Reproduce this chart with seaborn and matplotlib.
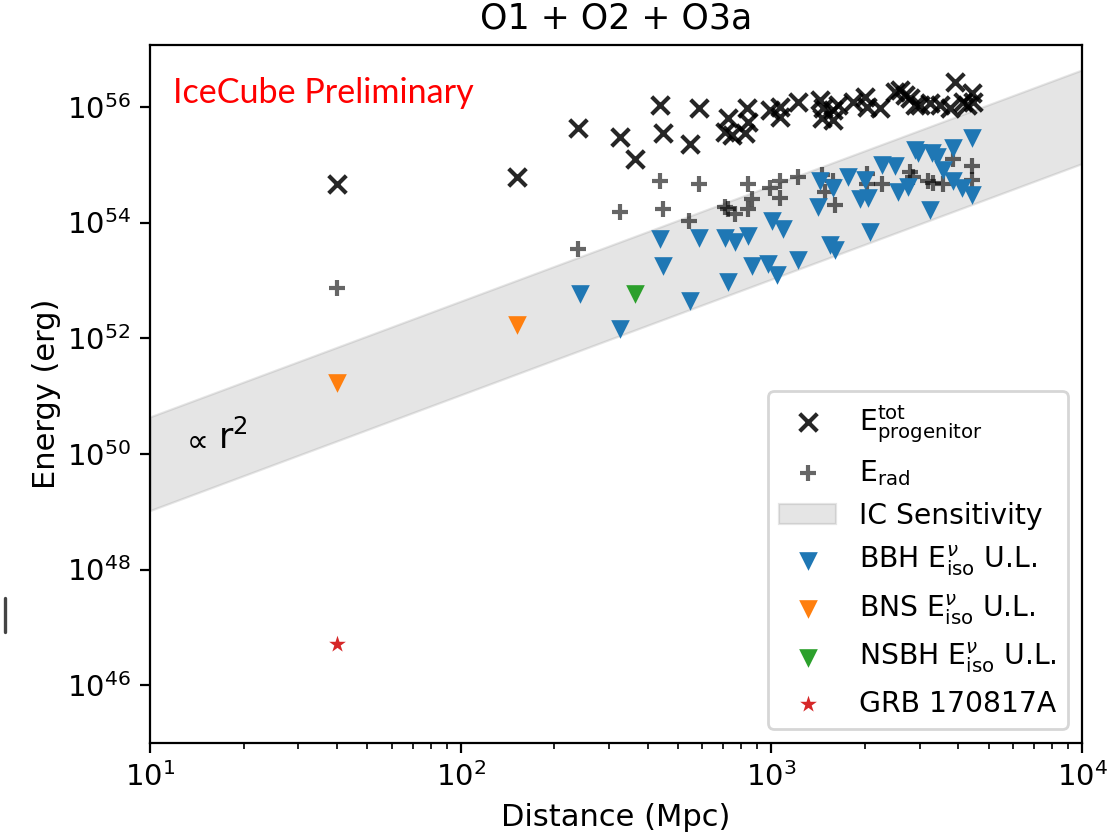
import numpy as np
import pandas as pd
import matplotlib.pyplot as plt
import seaborn as sns
from matplotlib.lines import Line2D
from matplotlib.ticker import LogLocator, NullLocator

sns.set_style("ticks")
plt.rcParams['font.family'] = ['DejaVu Sans']
plt.rcParams['mathtext.fontset'] = 'dejavusans'
for key in ['text.color', 'axes.labelcolor', 'xtick.color', 'ytick.color', 'axes.edgecolor']:
    plt.rcParams[key] = 'black'

# --- data (distance in Mpc, energy as log10 erg) ---
tot_dist = [40, 152, 239, 326, 364, 438, 448, 547, 585, 725, 709, 747, 836, 841,
            822, 989, 1066, 1066, 1219, 1433, 1466, 1455, 1579, 1579, 1832, 2001,
            2031, 2238, 2500, 2593, 2794, 2899, 3238, 3489, 3758, 3897, 4137, 4426,
            4458, 1638, 2692, 3009, 4266]
tot_logE = [54.67, 54.78, 55.64, 55.48, 55.09, 56.03, 55.55, 55.36, 55.98, 55.81,
            55.57, 55.52, 55.98, 55.74, 55.55, 55.95, 56.00, 55.83, 56.09, 56.12,
            55.98, 55.81, 55.95, 55.78, 56.09, 56.17, 56.00, 55.98, 56.26, 56.29,
            56.16, 56.03, 56.07, 56.03, 55.98, 56.43, 56.09, 56.24, 56.09, 56.03,
            56.21, 56.03, 56.03]

rad_dist = [40, 239, 326, 438, 448, 543, 585, 709, 725, 764, 841, 866, 841, 989,
            1066, 1066, 1219, 1455, 1489, 1579, 1603, 2031, 2031, 2270, 2794, 2858,
            3192, 3311, 3567, 3840, 4426, 4426]
rad_logE = [52.86, 53.55, 54.19, 54.72, 54.24, 54.02, 54.67, 54.26, 54.24, 54.14,
            54.67, 54.40, 54.24, 54.60, 54.71, 54.43, 54.79, 54.83, 54.52, 54.71,
            54.31, 54.84, 54.66, 54.66, 54.88, 54.79, 54.71, 54.69, 54.66, 55.09,
            54.97, 54.74]

bbh_dist = [242, 326, 438, 448, 547, 585, 709, 764, 841, 725, 866, 975, 1042, 1005,
            1090, 1219, 1413, 1433, 1579, 1546, 1603, 1766, 1929, 2001, 2047, 2076,
            2270, 2500, 2555, 2752, 2899, 2966, 3287, 3410, 3238, 3567, 3840, 3840,
            4107, 4426, 4426]
bbh_logE = [52.76, 52.16, 53.71, 53.24, 52.64, 53.74, 53.74, 53.66, 53.76, 52.98,
            53.24, 53.28, 53.10, 54.02, 53.88, 53.36, 54.26, 54.71, 54.60, 53.62,
            53.53, 54.79, 54.40, 54.74, 54.43, 53.84, 55.00, 54.97, 54.52, 54.62,
            55.26, 55.21, 55.21, 55.14, 54.22, 54.91, 55.29, 54.71, 54.60, 54.48,
            55.47]

bns_dist = [40, 152]
bns_logE = [51.22, 52.22]

nsbh_dist = [364]
nsbh_logE = [52.76]

grb_dist = [40]
grb_logE = [46.72]

# IceCube sensitivity band (E ~ r^2), log10 E at 10 Mpc
band_dist = [10, 1e4]
band_low_10 = 49.02
band_high_10 = 50.64

fig = plt.figure(figsize=(5.545, 4.18), dpi=200)
ax = fig.add_axes([0.1353, 0.1112, 0.8404, 0.835])

bd = np.array(band_dist, dtype=float)
low = 10 ** (band_low_10 + 2 * np.log10(bd / 10))
high = 10 ** (band_high_10 + 2 * np.log10(bd / 10))
ax.fill_between(bd, low, high, color='grey', alpha=0.2, linewidth=0.8,
                label='IC Sensitivity')

def pts(d, e):
    return pd.DataFrame({'d': d, 'E': 10 ** np.array(e)})

sns.scatterplot(data=pts(tot_dist, tot_logE), x='d', y='E', marker='x', color='k',
                s=40, linewidth=1.5, alpha=0.85, ax=ax,
                label=r'$\mathrm{E}^{\mathrm{tot}}_{\mathrm{progenitor}}$')
sns.scatterplot(data=pts(rad_dist, rad_logE), x='d', y='E', marker='+', color='k',
                s=36, linewidth=1.5, alpha=0.6, ax=ax,
                label=r'$\mathrm{E}_{\mathrm{rad}}$')
sns.scatterplot(data=pts(bbh_dist, bbh_logE), x='d', y='E', marker='v', color='#1f77b4',
                s=45, linewidth=0, ax=ax,
                label=r'BBH $\mathrm{E}^{\nu}_{\mathrm{iso}}$ U.L.')
sns.scatterplot(data=pts(bns_dist, bns_logE), x='d', y='E', marker='v', color='#ff7f0e',
                s=45, linewidth=0, ax=ax,
                label=r'BNS $\mathrm{E}^{\nu}_{\mathrm{iso}}$ U.L.')
sns.scatterplot(data=pts(nsbh_dist, nsbh_logE), x='d', y='E', marker='v', color='#2ca02c',
                s=45, linewidth=0, ax=ax,
                label=r'NSBH $\mathrm{E}^{\nu}_{\mathrm{iso}}$ U.L.')
sns.scatterplot(data=pts(grb_dist, grb_logE), x='d', y='E', marker='*', color='#d62728',
                s=40, linewidth=0, ax=ax, label='GRB 170817A')

ax.set_xscale('log')
ax.set_yscale('log')
ax.set_xlim(10, 1e4)
ax.set_ylim(1e45, 10 ** 57.07)
ax.yaxis.set_major_locator(LogLocator(base=100))
ax.yaxis.set_minor_locator(NullLocator())
ax.xaxis.set_major_locator(LogLocator(base=10))
ax.xaxis.set_minor_locator(LogLocator(base=10, subs=np.arange(2, 10)))

ax.set_xlabel('Distance (Mpc)', fontsize=11)
ax.set_ylabel('Energy (erg)', fontsize=11, labelpad=2)
ax.set_title('O1 + O2 + O3a', fontsize=12.5)
ax.tick_params(labelsize=10.5)

ax.text(12.6, 10 ** 50.09, r'$\propto$', fontsize=11, va='baseline')
ax.text(16.6, 10 ** 50.09, r'r$^2$', fontsize=12.5, va='baseline')
ax.text(0.025, 0.917, 'IceCube Preliminary', transform=ax.transAxes, color='red',
        fontsize=12.3, family=['Lato', 'DejaVu Sans'], va='baseline')

handles, labels = ax.get_legend_handles_labels()
order = [1, 2, 0, 3, 4, 5, 6]
ax.legend([handles[i] for i in order], [labels[i] for i in order],
          loc='lower right', fontsize=10.2, handlelength=2.0)

# stray mark at the left edge of the original image
fig.add_artist(Line2D([0.0045, 0.0045], [0.244, 0.285], color='#444444', linewidth=1.2))

fig.savefig('out.png', dpi=200)
